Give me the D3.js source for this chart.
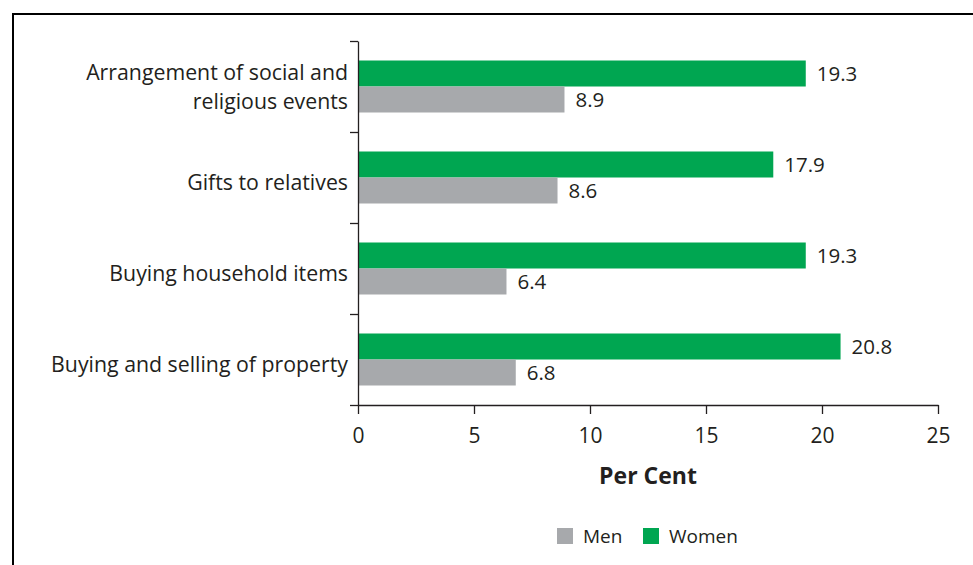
<!DOCTYPE html>
<html>
<head>
<meta charset="utf-8">
<script src="https://cdn.jsdelivr.net/npm/d3@7"></script>
<style>
  body { margin: 0; background: #fff; }
  svg text { font-family: "Open Sans", "Noto Sans", sans-serif; fill: #231f20; }
</style>
</head>
<body>
<div id="chart"></div>
<script>
// data
const categories = ['Arrangement of social and religious events', 'Gifts to relatives', 'Buying household items', 'Buying and selling of property'];
const categoryLines = [['Arrangement of social and', 'religious events'], ['Gifts to relatives'], ['Buying household items'], ['Buying and selling of property']];
const women = [19.3, 17.9, 19.3, 20.8];
const men = [8.9, 8.6, 6.4, 6.8];
const seriesNames = ['Women', 'Men'];
const legendNames = ['Men', 'Women'];
const xTicks = [0, 5, 10, 15, 20, 25];

const colors = { Women: '#00a651', Men: '#a7a9ac' };

const width = 973, height = 565;
const svg = d3.select('#chart').append('svg')
    .attr('width', width)
    .attr('height', height);

// frame (only top and left edges fall inside the picture)
svg.append('rect')
    .attr('x', 13).attr('y', 14)
    .attr('width', 1000).attr('height', 600)
    .attr('fill', 'none')
    .attr('stroke', '#000')
    .attr('stroke-width', 2);

const x = d3.scaleLinear().domain([0, 25]).range([358, 938]);
const y = d3.scaleBand().domain(categories).range([41, 405]);
const ySub = d3.scaleBand().domain(seriesNames).range([0, y.bandwidth()]).paddingOuter(0.75);

// bars
const rows = categories.map((c, i) => ({ c, i, Women: women[i], Men: men[i] }));
const groups = svg.append('g').selectAll('g')
    .data(rows)
    .join('g')
    .attr('transform', d => 'translate(0,' + y(d.c) + ')');

groups.selectAll('rect')
    .data(d => seriesNames.map(s => ({ s, v: d[s] })))
    .join('rect')
    .attr('x', x(0))
    .attr('y', d => ySub(d.s))
    .attr('width', d => x(d.v) - x(0))
    .attr('height', ySub.bandwidth())
    .attr('fill', d => colors[d.s]);

groups.selectAll('text.val')
    .data(d => seriesNames.map(s => ({ s, v: d[s] })))
    .join('text')
    .attr('class', 'val')
    .attr('x', d => x(d.v) + 11)
    .attr('y', d => ySub(d.s) + ySub.bandwidth() / 2)
    .attr('dy', '0.36em')
    .style('font-size', '20.5px')
    .text(d => d.v.toFixed(1));

// y axis with ticks at the band edges
const yEdge = d3.scaleLinear().domain([0, categories.length]).range([41, 405]);
svg.append('g')
    .attr('transform', 'translate(' + x(0) + ',0)')
    .call(d3.axisLeft(yEdge).ticks(categories.length).tickFormat('').tickSize(8).tickSizeOuter(0))
    .call(g => g.selectAll('path,line').attr('stroke', '#231f20').attr('stroke-width', 1.3));

// category labels
groups.append('text')
    .attr('text-anchor', 'end')
    .attr('x', x(0) - 10)
    .attr('y', y.bandwidth() / 2)
    .style('font-size', '21.3px')
    .selectAll('tspan')
    .data(d => categoryLines[d.i].map((t, j, a) => ({ t, j, n: a.length })))
    .join('tspan')
    .attr('x', x(0) - 10)
    .attr('dy', d => d.j === 0 ? (d.n === 1 ? '0.6em' : '-0.3em') : '1.35em')
    .text(d => d.t);

// x axis
svg.append('g')
    .attr('transform', 'translate(0,' + 405 + ')')
    .call(d3.axisBottom(x).tickValues(xTicks).tickSize(9).tickSizeOuter(0).tickPadding(14))
    .call(g => g.selectAll('path,line').attr('stroke', '#231f20').attr('stroke-width', 1.3))
    .call(g => g.selectAll('text').style('font-size', '21px').attr('fill', '#231f20'));

svg.append('text')
    .attr('x', (x(0) + x(25)) / 2)
    .attr('y', 484)
    .attr('text-anchor', 'middle')
    .style('font-size', '23px')
    .style('font-weight', 'bold')
    .text('Per Cent');

// legend
const legendX = [557, 643];
const legend = svg.append('g').selectAll('g')
    .data(legendNames)
    .join('g')
    .attr('transform', (d, i) => 'translate(' + legendX[i] + ',528)');
legend.append('rect')
    .attr('width', 16).attr('height', 16)
    .attr('fill', d => colors[d]);
legend.append('text')
    .attr('x', 26).attr('y', 8)
    .attr('dy', '0.36em')
    .style('font-size', '19px')
    .text(d => d);
</script>
</body>
</html>
